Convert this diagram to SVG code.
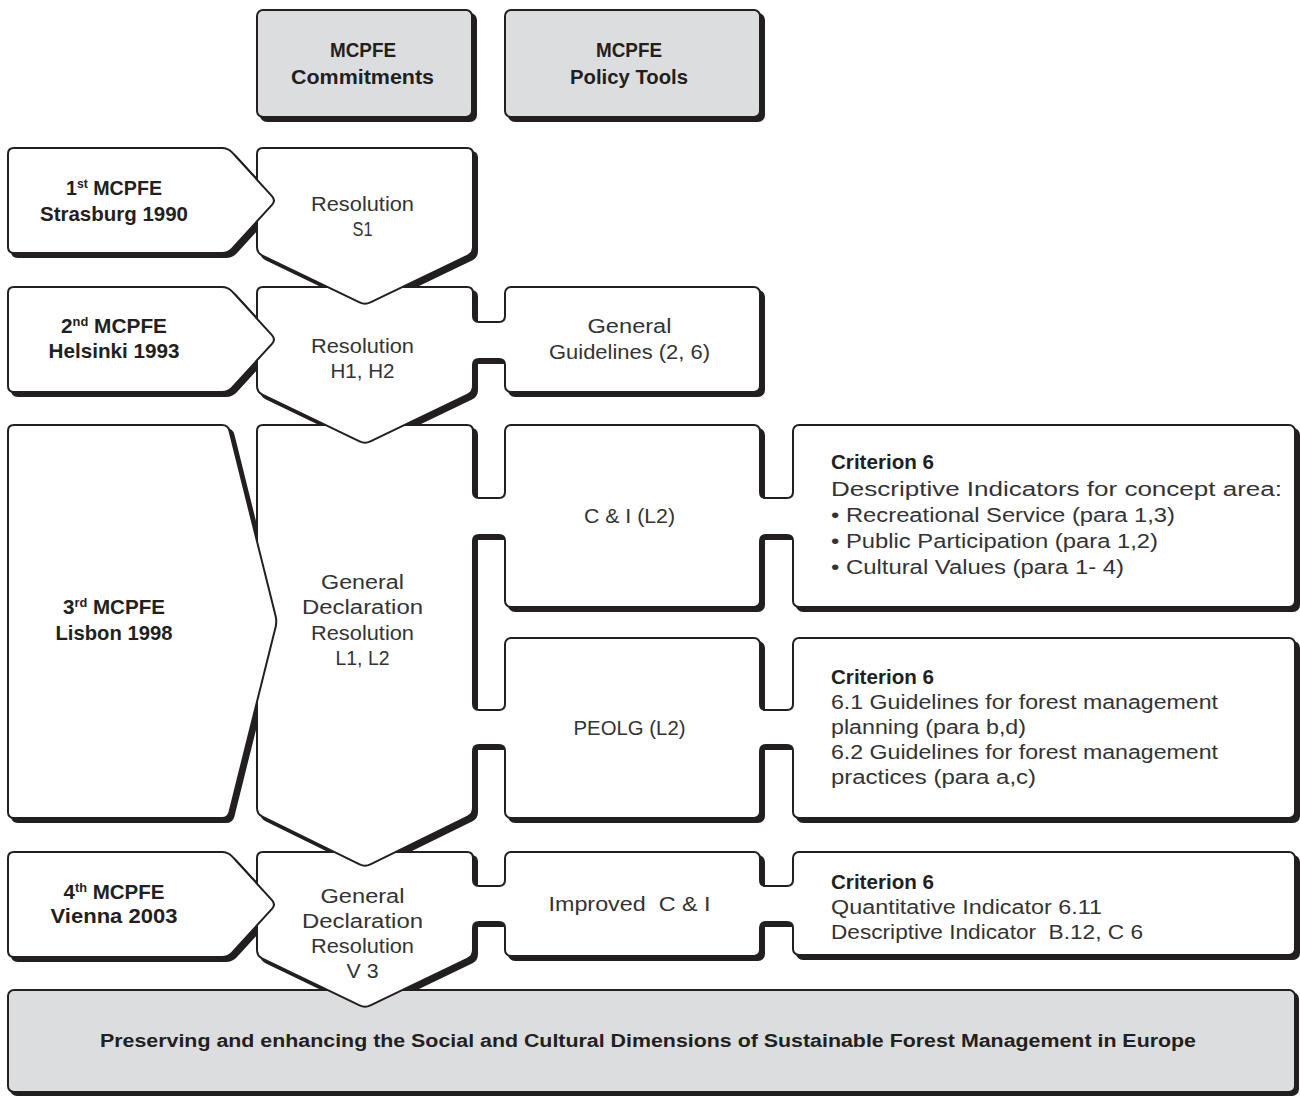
<svg xmlns="http://www.w3.org/2000/svg" xmlns:xlink="http://www.w3.org/1999/xlink" width="1300" height="1097" viewBox="0 0 1300 1097">
<style>
.sh{fill:#231f20;stroke:#231f20;stroke-width:2}
.wf{fill:#fff;stroke:#231f20;stroke-width:2}
.gf{fill:#dcdddf;stroke:#231f20;stroke-width:2}
.bw{fill:#fff;stroke:none}
.bl{fill:none;stroke:#231f20;stroke-width:2}
.bs{fill:#231f20}
.b{font-family:"Liberation Sans",Arial,sans-serif;font-weight:bold;font-size:21px;fill:#231f20;text-anchor:middle}
.r{font-family:"Liberation Sans",Arial,sans-serif;font-size:20px;fill:#333;text-anchor:middle}
.rl{font-family:"Liberation Sans",Arial,sans-serif;font-size:20px;fill:#333;text-anchor:start}
.bl2{font-family:"Liberation Sans",Arial,sans-serif;font-weight:bold;font-size:20px;fill:#231f20;text-anchor:start}
.sup{font-size:13px}
</style>
<defs>
<rect id="s-bottom" x="8" y="990" width="1287" height="102" rx="6"/>
<rect id="s-comm" x="257" y="10" width="215" height="107" rx="6"/>
<rect id="s-pol" x="505" y="10" width="255" height="107" rx="6"/>
<rect id="s-gg" x="505" y="287" width="255" height="105" rx="6"/>
<rect id="s-ci" x="505" y="425" width="255" height="182" rx="6"/>
<rect id="s-peolg" x="505" y="638" width="255" height="180" rx="6"/>
<rect id="s-imp" x="505" y="852" width="255" height="104" rx="6"/>
<rect id="s-c1" x="793" y="425" width="502" height="182" rx="6"/>
<rect id="s-c2" x="793" y="638" width="502" height="180" rx="6"/>
<rect id="s-c3" x="793" y="852" width="502" height="103" rx="6"/>
<path id="s-a1" d="M8,154 Q8,148 14,148 L222,148 Q228,148 232.05,152.43 L271.95,196.07 Q276,200.5 271.95,204.93 L232.05,248.57 Q228,253 222,253 L14,253 Q8,253 8,247 Z"/>
<path id="s-a2" d="M8,293 Q8,287 14,287 L222,287 Q228,287 232.05,291.43 L271.95,335.07 Q276,339.5 271.95,343.93 L232.05,387.57 Q228,392 222,392 L14,392 Q8,392 8,386 Z"/>
<path id="s-a3" d="M8,431 Q8,425 14,425 L222,425 Q228,425 229.45,430.82 L275.55,615.68 Q277,621.5 275.55,627.32 L229.45,812.18 Q228,818 222,818 L14,818 Q8,818 8,812 Z"/>
<path id="s-a4" d="M8,858 Q8,852 14,852 L222,852 Q228,852 232.05,856.43 L271.95,900.07 Q276,904.5 271.95,908.93 L232.05,952.57 Q228,957 222,957 L14,957 Q8,957 8,951 Z"/>
<path id="s-s1" d="M257,154 Q257,148 263,148 L467,148 Q473,148 473,154 L473,247 Q473,253 467.6,255.6 L370.4,302.4 Q365,305 359.6,302.4 L262.4,255.6 Q257,253 257,247 Z"/>
<path id="s-h1" d="M257,293 Q257,287 263,287 L467,287 Q473,287 473,293 L473,386 Q473,392 467.6,394.6 L370.4,441.4 Q365,444 359.6,441.4 L262.4,394.6 Q257,392 257,386 Z"/>
<path id="s-gd" d="M257,431 Q257,425 263,425 L467,425 Q473,425 473,431 L473,808 Q473,814 467.61,816.64 L370.39,864.36 Q365,867 359.61,864.36 L262.39,816.64 Q257,814 257,808 Z"/>
<path id="s-v3" d="M257,858 Q257,852 263,852 L467,852 Q473,852 473,858 L473,950 Q473,956 467.6,958.6 L370.4,1005.4 Q365,1008 359.6,1005.4 L262.4,958.6 Q257,956 257,950 Z"/>
</defs>
<rect width="1300" height="1097" fill="#fff"/>

<g id="shadows">
<use href="#s-bottom" class="sh" transform="translate(3,3)"/>
<use href="#s-comm" class="sh" transform="translate(4,4)"/>
<use href="#s-pol" class="sh" transform="translate(4,4)"/>
<use href="#s-a1" class="sh" transform="translate(4,4)"/>
<use href="#s-s1" class="sh" transform="translate(4,4)"/>
<use href="#s-a2" class="sh" transform="translate(4,4)"/>
<use href="#s-h1" class="sh" transform="translate(4,4)"/>
<use href="#s-gg" class="sh" transform="translate(4,4)"/>
<use href="#s-a3" class="sh" transform="translate(4,4)"/>
<use href="#s-gd" class="sh" transform="translate(4,4)"/>
<use href="#s-ci" class="sh" transform="translate(4,4)"/>
<use href="#s-peolg" class="sh" transform="translate(4,4)"/>
<use href="#s-c1" class="sh" transform="translate(4,4)"/>
<use href="#s-c2" class="sh" transform="translate(4,4)"/>
<use href="#s-a4" class="sh" transform="translate(4,4)"/>
<use href="#s-v3" class="sh" transform="translate(4,4)"/>
<use href="#s-imp" class="sh" transform="translate(4,4)"/>
<use href="#s-c3" class="sh" transform="translate(4,4)"/>
</g>

<g id="goal">
<use href="#s-bottom" class="gf"/>
<text class="b" x="648" y="1047" style="font-size:18px" textLength="1096" lengthAdjust="spacingAndGlyphs">Preserving and enhancing the Social and Cultural Dimensions of Sustainable Forest Management in Europe</text>
</g>

<g id="res-v3">
<use href="#s-v3" class="wf"/>
<text class="r" x="362.5" y="903" textLength="84" lengthAdjust="spacingAndGlyphs">General</text>
<text class="r" x="362.5" y="928" textLength="121" lengthAdjust="spacingAndGlyphs">Declaration</text>
<text class="r" x="362.5" y="953" textLength="103" lengthAdjust="spacingAndGlyphs">Resolution</text>
<text class="r" x="362.5" y="978" textLength="32" lengthAdjust="spacingAndGlyphs">V 3</text>
</g>
<g id="improved-ci">
<use href="#s-imp" class="wf"/>
<text class="r" x="629.5" y="911" textLength="162" lengthAdjust="spacingAndGlyphs" xml:space="preserve" style="white-space:pre">Improved  C &amp; I</text>
</g>
<g id="criterion-v">
<use href="#s-c3" class="wf"/>
<text class="bl2" x="831" y="889" textLength="103" lengthAdjust="spacingAndGlyphs">Criterion 6</text>
<text class="rl" x="831" y="914" textLength="271" lengthAdjust="spacingAndGlyphs">Quantitative Indicator 6.11</text>
<text class="rl" x="831" y="939" textLength="312" lengthAdjust="spacingAndGlyphs" xml:space="preserve" style="white-space:pre">Descriptive Indicator  B.12, C 6</text>
</g>
<g id="mcpfe-4">
<use href="#s-a4" class="wf"/>
<text class="b" x="114" y="899" textLength="101" lengthAdjust="spacingAndGlyphs">4<tspan class="sup" dy="-7">th</tspan><tspan dy="7"> MCPFE</tspan></text>
<text class="b" x="114" y="923" textLength="127" lengthAdjust="spacingAndGlyphs">Vienna 2003</text>
</g>

<g id="res-l">
<use href="#s-gd" class="wf"/>
<text class="r" x="362.5" y="589" textLength="83" lengthAdjust="spacingAndGlyphs">General</text>
<text class="r" x="362.5" y="614" textLength="121" lengthAdjust="spacingAndGlyphs">Declaration</text>
<text class="r" x="362.5" y="640" textLength="103" lengthAdjust="spacingAndGlyphs">Resolution</text>
<text class="r" x="362.5" y="665" textLength="54" lengthAdjust="spacingAndGlyphs">L1, L2</text>
</g>
<g id="ci-l2">
<use href="#s-ci" class="wf"/>
<text class="r" x="629.5" y="523" textLength="91" lengthAdjust="spacingAndGlyphs">C &amp; I (L2)</text>
</g>
<g id="peolg-l2">
<use href="#s-peolg" class="wf"/>
<text class="r" x="629.5" y="735" textLength="112" lengthAdjust="spacingAndGlyphs">PEOLG (L2)</text>
</g>
<g id="criterion-ci">
<use href="#s-c1" class="wf"/>
<text class="bl2" x="831" y="469" textLength="103" lengthAdjust="spacingAndGlyphs">Criterion 6</text>
<text class="rl" x="831" y="496" textLength="451" lengthAdjust="spacingAndGlyphs">Descriptive Indicators for concept area:</text>
<text class="rl" x="831" y="522" textLength="344" lengthAdjust="spacingAndGlyphs">• Recreational Service (para 1,3)</text>
<text class="rl" x="831" y="548" textLength="327" lengthAdjust="spacingAndGlyphs">• Public Participation (para 1,2)</text>
<text class="rl" x="831" y="574" textLength="293" lengthAdjust="spacingAndGlyphs">• Cultural Values (para 1- 4)</text>
</g>
<g id="criterion-peolg">
<use href="#s-c2" class="wf"/>
<text class="bl2" x="831" y="684" textLength="103" lengthAdjust="spacingAndGlyphs">Criterion 6</text>
<text class="rl" x="831" y="709" textLength="387" lengthAdjust="spacingAndGlyphs">6.1 Guidelines for forest management</text>
<text class="rl" x="831" y="734" textLength="195" lengthAdjust="spacingAndGlyphs">planning (para b,d)</text>
<text class="rl" x="831" y="759" textLength="387" lengthAdjust="spacingAndGlyphs">6.2 Guidelines for forest management</text>
<text class="rl" x="831" y="784" textLength="205" lengthAdjust="spacingAndGlyphs">practices (para a,c)</text>
</g>
<g id="mcpfe-3">
<use href="#s-a3" class="wf"/>
<text class="b" x="114" y="614" textLength="102" lengthAdjust="spacingAndGlyphs">3<tspan class="sup" dy="-7">rd</tspan><tspan dy="7"> MCPFE</tspan></text>
<text class="b" x="114" y="640" textLength="117" lengthAdjust="spacingAndGlyphs">Lisbon 1998</text>
</g>

<g id="res-h">
<use href="#s-h1" class="wf"/>
<text class="r" x="362.5" y="353" textLength="103" lengthAdjust="spacingAndGlyphs">Resolution</text>
<text class="r" x="362.5" y="378" textLength="64" lengthAdjust="spacingAndGlyphs">H1, H2</text>
</g>
<g id="general-guidelines">
<use href="#s-gg" class="wf"/>
<text class="r" x="629.5" y="333" textLength="84" lengthAdjust="spacingAndGlyphs">General</text>
<text class="r" x="629.5" y="359" textLength="161" lengthAdjust="spacingAndGlyphs">Guidelines (2, 6)</text>
</g>
<g id="mcpfe-2">
<use href="#s-a2" class="wf"/>
<text class="b" x="114" y="333" textLength="106" lengthAdjust="spacingAndGlyphs">2<tspan class="sup" dy="-7">nd</tspan><tspan dy="7"> MCPFE</tspan></text>
<text class="b" x="114" y="358" textLength="131" lengthAdjust="spacingAndGlyphs">Helsinki 1993</text>
</g>

<g id="res-s">
<use href="#s-s1" class="wf"/>
<text class="r" x="362.5" y="211" textLength="103" lengthAdjust="spacingAndGlyphs">Resolution</text>
<text class="r" x="362.5" y="236" textLength="20" lengthAdjust="spacingAndGlyphs">S1</text>
</g>
<g id="mcpfe-1">
<use href="#s-a1" class="wf"/>
<text class="b" x="114" y="195" textLength="96" lengthAdjust="spacingAndGlyphs">1<tspan class="sup" dy="-7">st</tspan><tspan dy="7"> MCPFE</tspan></text>
<text class="b" x="114" y="221" textLength="148" lengthAdjust="spacingAndGlyphs">Strasburg 1990</text>
</g>

<g id="hdr-commitments">
<use href="#s-comm" class="gf"/>
<text class="b" x="363" y="57" textLength="66" lengthAdjust="spacingAndGlyphs">MCPFE</text>
<text class="b" x="362.5" y="84" textLength="143" lengthAdjust="spacingAndGlyphs">Commitments</text>
</g>
<g id="hdr-policy-tools">
<use href="#s-pol" class="gf"/>
<text class="b" x="629" y="57" textLength="66" lengthAdjust="spacingAndGlyphs">MCPFE</text>
<text class="b" x="629" y="84" textLength="118" lengthAdjust="spacingAndGlyphs">Policy Tools</text>
</g>

<g id="connectors">
<g>
<rect class="bs" x="474" y="359" width="31" height="5"/>
<path class="bw" d="M471.5,316 L473,316 Q473,322 479,322 L499,322 Q505,322 505,316 L506.5,316 L506.5,365 L505,365 Q505,359 499,359 L479,359 Q473,359 473,365 L471.5,365 Z"/>
<path class="bl" d="M473,316 Q473,322 479,322 L499,322 Q505,322 505,316 M473,365 Q473,359 479,359 L499,359 Q505,359 505,365"/>
</g>
<g>
<rect class="bs" x="474" y="535" width="31" height="5"/>
<path class="bw" d="M471.5,492 L473,492 Q473,498 479,498 L499,498 Q505,498 505,492 L506.5,492 L506.5,541 L505,541 Q505,535 499,535 L479,535 Q473,535 473,541 L471.5,541 Z"/>
<path class="bl" d="M473,492 Q473,498 479,498 L499,498 Q505,498 505,492 M473,541 Q473,535 479,535 L499,535 Q505,535 505,541"/>
</g>
<g>
<rect class="bs" x="474" y="745" width="31" height="5"/>
<path class="bw" d="M471.5,704 L473,704 Q473,710 479,710 L499,710 Q505,710 505,704 L506.5,704 L506.5,751 L505,751 Q505,745 499,745 L479,745 Q473,745 473,751 L471.5,751 Z"/>
<path class="bl" d="M473,704 Q473,710 479,710 L499,710 Q505,710 505,704 M473,751 Q473,745 479,745 L499,745 Q505,745 505,751"/>
</g>
<g>
<rect class="bs" x="761" y="535" width="32" height="5"/>
<path class="bw" d="M758.5,492 L760,492 Q760,498 766,498 L787,498 Q793,498 793,492 L794.5,492 L794.5,541 L793,541 Q793,535 787,535 L766,535 Q760,535 760,541 L758.5,541 Z"/>
<path class="bl" d="M760,492 Q760,498 766,498 L787,498 Q793,498 793,492 M760,541 Q760,535 766,535 L787,535 Q793,535 793,541"/>
</g>
<g>
<rect class="bs" x="761" y="745" width="32" height="5"/>
<path class="bw" d="M758.5,704 L760,704 Q760,710 766,710 L787,710 Q793,710 793,704 L794.5,704 L794.5,751 L793,751 Q793,745 787,745 L766,745 Q760,745 760,751 L758.5,751 Z"/>
<path class="bl" d="M760,704 Q760,710 766,710 L787,710 Q793,710 793,704 M760,751 Q760,745 766,745 L787,745 Q793,745 793,751"/>
</g>
<g>
<rect class="bs" x="474" y="922" width="31" height="5"/>
<path class="bw" d="M471.5,880 L473,880 Q473,886 479,886 L499,886 Q505,886 505,880 L506.5,880 L506.5,928 L505,928 Q505,922 499,922 L479,922 Q473,922 473,928 L471.5,928 Z"/>
<path class="bl" d="M473,880 Q473,886 479,886 L499,886 Q505,886 505,880 M473,928 Q473,922 479,922 L499,922 Q505,922 505,928"/>
</g>
<g>
<rect class="bs" x="761" y="922" width="32" height="5"/>
<path class="bw" d="M758.5,880 L760,880 Q760,886 766,886 L787,886 Q793,886 793,880 L794.5,880 L794.5,928 L793,928 Q793,922 787,922 L766,922 Q760,922 760,928 L758.5,928 Z"/>
<path class="bl" d="M760,880 Q760,886 766,886 L787,886 Q793,886 793,880 M760,928 Q760,922 766,922 L787,922 Q793,922 793,928"/>
</g>
</g>
</svg>
